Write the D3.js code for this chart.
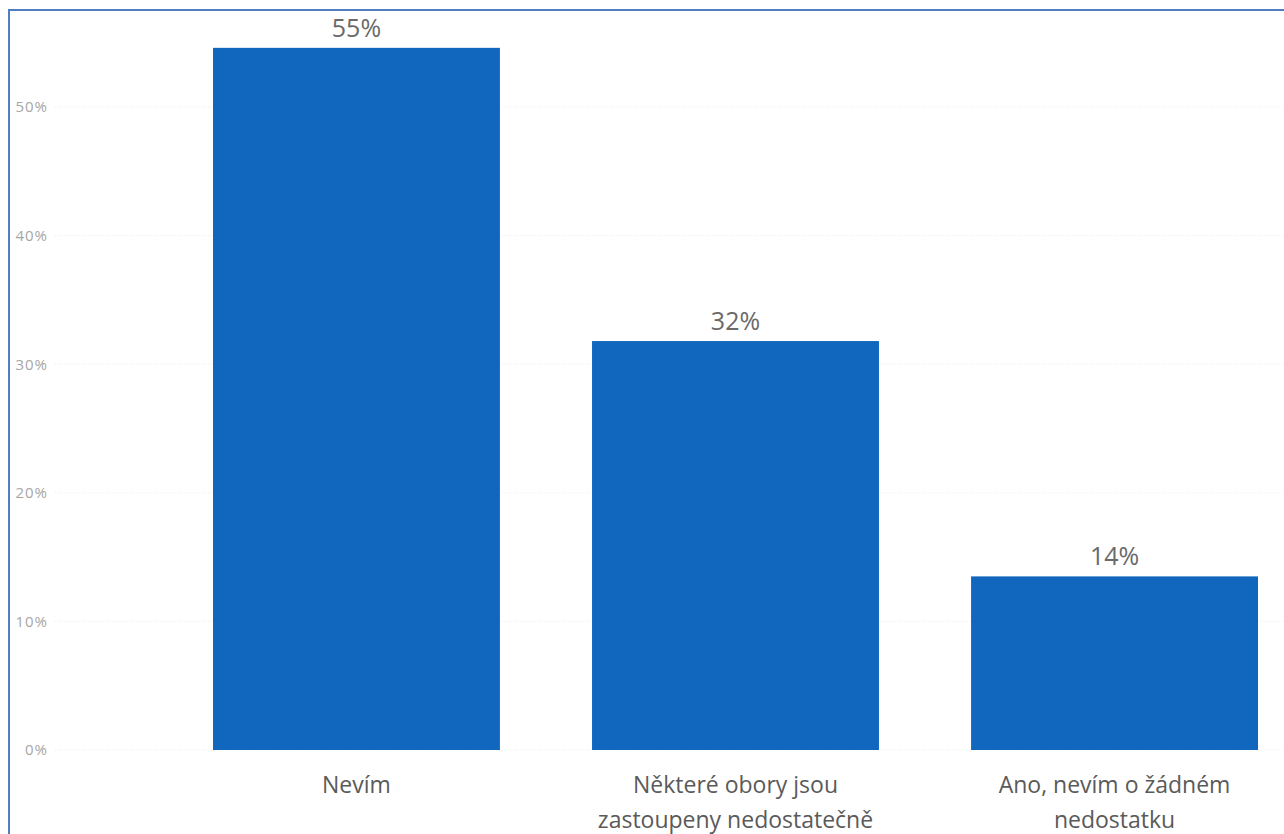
<!DOCTYPE html>
<html><head><meta charset="utf-8">
<script src="https://cdn.jsdelivr.net/npm/d3@7"></script>
<style>html,body{margin:0;padding:0;background:#fff;}svg{display:block;}</style>
</head><body>
<svg id="chart" width="1284" height="834"></svg>
<script>
const categories = ["Nevím", "Některé obory jsou zastoupeny nedostatečně", "Ano, nevím o žádném nedostatku"];
const categoryLines = [["Nevím"], ["Některé obory jsou", "zastoupeny nedostatečně"], ["Ano, nevím o žádném", "nedostatku"]];
const values = [54.6, 31.8, 13.5];
const valueLabels = ["55%", "32%", "14%"];
const yTicks = [0, 10, 20, 30, 40, 50];
const yTickLabels = ["0%", "10%", "20%", "30%", "40%", "50%"];

const svg = d3.select("#chart");
const font = "'Open Sans', 'Noto Sans', sans-serif";

// frame border (left/top visible)
svg.append("rect").attr("x", 9).attr("y", 10).attr("width", 1400).attr("height", 1000)
  .attr("fill", "none").attr("stroke", "#4f7fc0").attr("stroke-width", 2);

const x = d3.scaleBand().domain(categories).range([213, 1258]).paddingInner(0.243).paddingOuter(0);
const y = d3.scaleLinear().domain([0, 50]).range([750, 107]);

// gridlines
svg.append("g").selectAll("line").data(yTicks).join("line")
  .attr("x1", 55).attr("x2", 1284)
  .attr("y1", d => y(d)).attr("y2", d => y(d))
  .attr("stroke", "#ececec").attr("stroke-width", 1).attr("stroke-dasharray", "1,2");

// y axis labels
const yAxis = d3.axisLeft(y).tickValues(yTicks).tickFormat((d, i) => yTickLabels[i]).tickSize(0).tickPadding(0);
const gy = svg.append("g").attr("transform", "translate(48,0)").call(yAxis);
gy.select(".domain").remove();
gy.selectAll("text").attr("font-family", font).attr("font-size", 15).attr("letter-spacing", 1)
  .attr("fill", "#a6a6a6");

// bars
svg.append("g").selectAll("rect").data(values).join("rect")
  .attr("x", (d, i) => x(categories[i]))
  .attr("y", d => y(d))
  .attr("width", x.bandwidth())
  .attr("height", d => y(0) - y(d))
  .attr("fill", "#1167bd");

// value labels
svg.append("g").selectAll("text").data(values).join("text")
  .attr("x", (d, i) => x(categories[i]) + x.bandwidth() / 2)
  .attr("y", d => y(d) - 11)
  .attr("text-anchor", "middle")
  .attr("font-family", font).attr("font-size", 25).attr("fill", "#6a6a6a")
  .text((d, i) => valueLabels[i]);

// category labels
const gx = svg.append("g");
categoryLines.forEach((lines, i) => {
  const t = gx.append("text")
    .attr("x", x(categories[i]) + x.bandwidth() / 2)
    .attr("y", 793)
    .attr("text-anchor", "middle")
    .attr("font-family", font).attr("font-size", 23).attr("fill", "#5a5a5a");
  lines.forEach((l, j) => {
    t.append("tspan").attr("x", x(categories[i]) + x.bandwidth() / 2).attr("dy", j === 0 ? 0 : 35).text(l);
  });
});
</script>
</body></html>
